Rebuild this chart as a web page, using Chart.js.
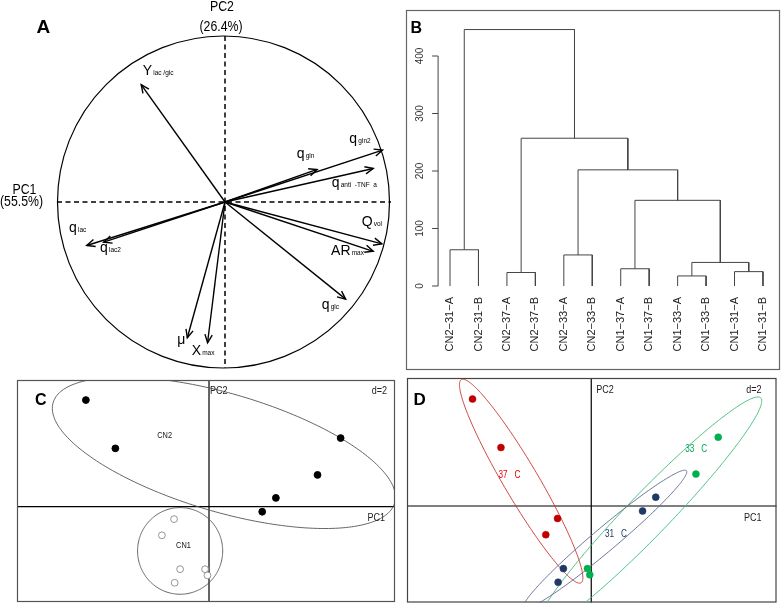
<!DOCTYPE html>
<html><head><meta charset="utf-8">
<script src="https://cdn.jsdelivr.net/npm/chart.js@4.4.1/dist/chart.umd.min.js"></script>
<style>
html,body{margin:0;padding:0;background:#fff;}
#wrap{position:relative;width:781px;height:607px;overflow:hidden;background:#fff;}
#wrap canvas{position:absolute;left:0;top:0;}
</style></head><body>
<div id="wrap">
<canvas id="cA" width="781" height="607"></canvas>
<canvas id="cB" width="781" height="607"></canvas>
<canvas id="cC" width="781" height="607"></canvas>
<canvas id="cD" width="781" height="607"></canvas>
</div>
<script>
// ================= DATA =================
// Panel A : correlation circle (loadings on PC1 / PC2)
const varMain = ['Y','q','q','q','Q','AR','q','q','q','\u03bc','X'];
const varSub  = ['lac /glc','gln2','gln','anti  -TNF  a','vol','max','glc','lac','lac2','','max'];
const loadPC1 = [-0.505, 0.949, 0.555, 0.893, 0.945, 0.893, 0.727, -0.833, -0.731, -0.227, -0.105];
const loadPC2 = [ 0.707, 0.313, 0.196, 0.202, -0.252, -0.297, -0.585, -0.262, -0.242, -0.818, -0.848];
const pcNames = ['PC1','PC2'];
const pcPercent = ['(55.5%)','(26.4%)'];

// Panel B : hierarchical clustering (R-style merge table)
const leafLabels = ['CN2\u221231\u2212A','CN2\u221231\u2212B','CN2\u221237\u2212A','CN2\u221237\u2212B',
  'CN2\u221233\u2212A','CN2\u221233\u2212B','CN1\u221237\u2212A','CN1\u221237\u2212B',
  'CN1\u221233\u2212A','CN1\u221233\u2212B','CN1\u221231\u2212A','CN1\u221231\u2212B'];
const mergeLeft   = [-9, -3, -11, -7, 1, -5, -1, 4, 6, 2, 7];
const mergeRight  = [-10, -4, -12, -8, 3, -6, -2, 5, 8, 9, 10];
const mergeHeight = [17.5, 23.5, 25, 30, 41, 54, 63, 149, 202, 257, 446];
const heightTicks = [0, 100, 200, 300, 400];

// Panels C and D : sample scores on PC1 / PC2
const sampleNutrient = ['CN2','CN2','CN1','CN1','CN2','CN2','CN1','CN1','CN2','CN2','CN1','CN1'];
const sampleTemp     = ['37','37','37','37','33','33','33','33','31','31','31','31'];
const scorePC1 = [-4.05, -3.08, -1.15, -1.55, 4.33, 3.57, -0.13, -0.05, 2.20, 1.75, -0.95, -1.13];
const scorePC2 = [ 3.62,  1.98, -0.42, -0.97, 2.33, 1.08, -2.12, -2.33, 0.30, -0.17, -2.12, -2.58];
const gridD = 'd=2';

// group ellipses (centre, semi-axes, orientation in degrees)
const nutGroups = ['CN2','CN1'];
const nutEllCX = [0.49, -0.95], nutEllCY = [1.83, -1.50];
const nutEllA  = [5.87, 1.47],  nutEllB  = [2.00, 1.40], nutEllAng = [-17, 90];
const tempGroups = ['37','33','31'];
const tempEllCX = [-2.39, 1.96, 0.47], tempEllCY = [0.84, -0.27, -1.13];
const tempEllA  = [4.00, 5.48, 3.62],  tempEllB  = [0.59, 0.72, 0.40];
const tempEllAng = [-59.3, 45.8, 39.9];

// ================= LAYOUT / STYLE =================
const W = 781, H = 607;
const SANS = '"Liberation Sans",Arial,sans-serif';
const NARROW_SCALE = 0.82;
// label offsets (px) from arrow tips, baseline-anchored
const varLabelOffset = [[1.5,-9.6],[-33.2,-7.5],[-20.4,-11.5],[-41.5,19],[-20.2,-17.5],[-42.2,3.7],
  [-24,9.9],[-17.7,-13.5],[-3.7,9.8],[-10,6.2],[-15.9,12.2]];
const nutLabelPos = [[-1.46,2.40],[-0.84,-1.30]];
const tempLabelPos = [[-2.79,1.03],[3.58,1.93],[0.84,-0.97]];
const tempPointColor = ['#c00000','#00b050','#1f3864'];
const tempEllColor = ['#c8322c','#3dbb7a','#5a6890'];
const tempTextColor = ['#e00000','#00a84f','#1f3864'];

function baseOptions(pad, xr, yr) {
  return {
    responsive: false, animation: false, events: [],
    layout: { padding: pad },
    plugins: { legend: { display: false }, tooltip: { enabled: false } },
    scales: {
      x: { type: 'linear', display: false, min: xr[0], max: xr[1] },
      y: { type: 'linear', display: false, min: yr[0], max: yr[1] }
    }
  };
}
function drawEllipse(ctx, xs, ys, cx, cy, a, b, ang, color, lw) {
  const t = ang * Math.PI / 180, c = Math.cos(t), s = Math.sin(t);
  ctx.beginPath();
  for (let k = 0; k <= 240; k++) {
    const f = k / 240 * 2 * Math.PI;
    const ex = a * Math.cos(f), ey = b * Math.sin(f);
    const px = xs.getPixelForValue(cx + ex * c - ey * s);
    const py = ys.getPixelForValue(cy + ex * s + ey * c);
    if (k === 0) ctx.moveTo(px, py); else ctx.lineTo(px, py);
  }
  ctx.closePath();
  ctx.strokeStyle = color; ctx.lineWidth = lw; ctx.stroke();
}
function txt(ctx, s, x, y, font, color, align, base) {
  ctx.font = font; ctx.fillStyle = color;
  ctx.textAlign = align || 'left'; ctx.textBaseline = base || 'alphabetic';
  ctx.fillText(s, x, y);
}
// condensed text (narrow face emulated by horizontal scaling)
function ntxt(ctx, s, x, y, size, color, align, base) {
  ctx.save();
  ctx.translate(x, y); ctx.scale(NARROW_SCALE, 1);
  txt(ctx, s, 0, 0, size + 'px ' + SANS, color, align, base);
  ctx.restore();
}

// ================= PANEL A =================
const arrowSets = loadPC1.map((v, i) => ({
  data: [{ x: 0, y: 0 }, { x: v, y: loadPC2[i] }],
  showLine: true, borderColor: '#000', borderWidth: 1.4, pointRadius: 0, fill: false
}));
const pluginA = {
  id: 'panelA',
  beforeDatasetsDraw(chart) {
    const ctx = chart.ctx, xs = chart.scales.x, ys = chart.scales.y;
    const ox = xs.getPixelForValue(0), oy = ys.getPixelForValue(0);
    const r = xs.getPixelForValue(1) - ox;
    ctx.save();
    ctx.beginPath(); ctx.arc(ox - 1.5, oy, r, 0, 2 * Math.PI);
    ctx.strokeStyle = '#000'; ctx.lineWidth = 1.2; ctx.stroke();
    ctx.setLineDash([5, 3.5]); ctx.lineWidth = 1.5;
    ctx.beginPath();
    ctx.moveTo(ox, ys.getPixelForValue(1)); ctx.lineTo(ox, ys.getPixelForValue(-1));
    ctx.moveTo(xs.getPixelForValue(-1) - 2, oy); ctx.lineTo(xs.getPixelForValue(1), oy);
    ctx.stroke();
    ctx.restore();
  },
  afterDatasetsDraw(chart) {
    const ctx = chart.ctx, xs = chart.scales.x, ys = chart.scales.y;
    const ox = xs.getPixelForValue(0), oy = ys.getPixelForValue(0);
    ctx.save();
    ctx.strokeStyle = '#000'; ctx.lineWidth = 1.4;
    loadPC1.forEach((v, i) => {
      const tx = xs.getPixelForValue(v), ty = ys.getPixelForValue(loadPC2[i]);
      const ang = Math.atan2(ty - oy, tx - ox), L = 9, da = 0.42;
      ctx.beginPath();
      ctx.moveTo(tx - L * Math.cos(ang - da), ty - L * Math.sin(ang - da));
      ctx.lineTo(tx, ty);
      ctx.lineTo(tx - L * Math.cos(ang + da), ty - L * Math.sin(ang + da));
      ctx.stroke();
      const lx = tx + varLabelOffset[i][0], ly = ty + varLabelOffset[i][1];
      ctx.font = '14px ' + SANS;
      const w = ctx.measureText(varMain[i]).width;
      txt(ctx, varMain[i], lx, ly, '14px ' + SANS, '#000');
      if (varSub[i]) txt(ctx, varSub[i], lx + w + 1.2, ly, '6.5px ' + SANS, '#000');
    });
    // axis titles
    ntxt(ctx, pcNames[1], ox - 3, 10.5, 15, '#000', 'center');
    ntxt(ctx, pcPercent[1], ox - 4, 30.5, 15, '#000', 'center');
    ntxt(ctx, pcNames[0], 24.5, 194, 15, '#000', 'center');
    ntxt(ctx, pcPercent[0], 21.5, 206, 15, '#000', 'center');
    txt(ctx, 'A', 36.5, 33.3, 'bold 19px ' + SANS, '#000');
    ctx.restore();
  }
};
new Chart(document.getElementById('cA'), {
  type: 'scatter',
  data: { datasets: arrowSets },
  options: baseOptions({ left: 59, top: 36, right: W - 391, bottom: H - 368 }, [-1, 1], [-1, 1]),
  plugins: [pluginA]
});

// ================= PANEL B =================
const nodeX = [], nodeH = [];
function posOf(id) { return id < 0 ? { x: -id, h: 0 } : { x: nodeX[id - 1], h: nodeH[id - 1] }; }
const dendroSets = [];
mergeLeft.forEach((l, k) => {
  const a = posOf(l), b = posOf(mergeRight[k]), h = mergeHeight[k];
  nodeX.push((a.x + b.x) / 2); nodeH.push(h);
  dendroSets.push({
    data: [{ x: a.x, y: a.h }, { x: a.x, y: h }, { x: b.x, y: h }, { x: b.x, y: b.h }],
    showLine: true, borderColor: '#444', borderWidth: 1, pointRadius: 0, fill: false
  });
});
const pluginB = {
  id: 'panelB',
  afterDatasetsDraw(chart) {
    const ctx = chart.ctx, xs = chart.scales.x, ys = chart.scales.y;
    ctx.save();
    ctx.strokeStyle = '#666'; ctx.lineWidth = 1.2;
    ctx.strokeRect(406.5, 10.5, 373, 359);
    const ax = xs.left + 2.3;
    ctx.strokeStyle = '#444'; ctx.lineWidth = 1;
    ctx.beginPath();
    ctx.moveTo(ax, ys.getPixelForValue(heightTicks[0]));
    ctx.lineTo(ax, ys.getPixelForValue(heightTicks[heightTicks.length - 1]));
    heightTicks.forEach(t => { const py = ys.getPixelForValue(t); ctx.moveTo(ax, py); ctx.lineTo(ax - 6, py); });
    ctx.stroke();
    heightTicks.forEach(t => {
      const py = ys.getPixelForValue(t);
      ctx.save(); ctx.translate(ax - 18, py); ctx.rotate(-Math.PI / 2);
      txt(ctx, String(t), 0, 0, '10px ' + SANS, '#333', 'center', 'middle');
      ctx.restore();
    });
    leafLabels.forEach((s, i) => {
      const px = xs.getPixelForValue(i + 1);
      ctx.save(); ctx.translate(px, ys.getPixelForValue(0) + 11); ctx.rotate(-Math.PI / 2);
      txt(ctx, s, 0, 0, '11px ' + SANS, '#222', 'right', 'middle');
      ctx.restore();
    });
    txt(ctx, 'B', 410.5, 33.3, 'bold 16px ' + SANS, '#000');
    ctx.restore();
  }
};
new Chart(document.getElementById('cB'), {
  type: 'scatter',
  data: { datasets: dendroSets },
  options: baseOptions({ left: 435.8, top: 21.5, right: W - 777.2, bottom: H - 286 }, [0.5, 12.5], [0, 460]),
  plugins: [pluginB]
});

// ================= PANEL C =================
function idxWhere(arr, v) { return arr.map((g, i) => g === v ? i : -1).filter(i => i >= 0); }
const cSets = nutGroups.map(g => {
  const ids = idxWhere(sampleNutrient, g);
  const filled = g === 'CN2';
  return {
    data: ids.map(i => ({ x: scorePC1[i], y: scorePC2[i] })),
    pointRadius: 3.4, pointBackgroundColor: filled ? '#000' : '#fff',
    pointBorderColor: filled ? '#000' : '#8a8a8a', pointBorderWidth: filled ? 1 : 0.9, showLine: false
  };
});
function axesAndFrame(chart, frameColor) {
  const ctx = chart.ctx, xs = chart.scales.x, ys = chart.scales.y, ca = chart.chartArea;
  ctx.strokeStyle = '#000'; ctx.lineWidth = 1.2;
  ctx.beginPath();
  ctx.moveTo(xs.getPixelForValue(0), ca.top); ctx.lineTo(xs.getPixelForValue(0), ca.bottom);
  ctx.moveTo(ca.left, ys.getPixelForValue(0)); ctx.lineTo(ca.right, ys.getPixelForValue(0));
  ctx.stroke();
  ctx.strokeStyle = frameColor; ctx.lineWidth = 1.2;
  ctx.strokeRect(ca.left + 0.5, ca.top + 0.5, ca.right - ca.left - 1, ca.bottom - ca.top - 1);
}
const pluginC = {
  id: 'panelC',
  beforeDatasetsDraw(chart) {
    const ctx = chart.ctx, xs = chart.scales.x, ys = chart.scales.y, ca = chart.chartArea;
    ctx.save();
    axesAndFrame(chart, '#555');
    ctx.beginPath(); ctx.rect(ca.left, ca.top, ca.right - ca.left, ca.bottom - ca.top); ctx.clip();
    nutGroups.forEach((g, k) => drawEllipse(ctx, xs, ys, nutEllCX[k], nutEllCY[k], nutEllA[k], nutEllB[k], nutEllAng[k], '#555', 0.9));
    ctx.restore();
    ctx.save();
    const ox = xs.getPixelForValue(0), oy = ys.getPixelForValue(0);
    ntxt(ctx, pcNames[1], ox + 1, ca.top + 14, 11, '#222');
    ntxt(ctx, gridD, ca.right - 8, ca.top + 14, 11, '#222', 'right');
    ntxt(ctx, pcNames[0], ca.right - 10, oy + 14, 11, '#222', 'right');
    nutGroups.forEach((g, k) => ntxt(ctx, g, xs.getPixelForValue(nutLabelPos[k][0]), ys.getPixelForValue(nutLabelPos[k][1]),
      9, '#111', 'center', 'middle'));
    txt(ctx, 'C', 35, 405, 'bold 16px ' + SANS, '#000');
    ctx.restore();
  }
};
new Chart(document.getElementById('cC'), {
  type: 'scatter',
  data: { datasets: cSets },
  options: baseOptions({ left: 17, top: 380, right: W - 395, bottom: H - 606 }, [-6.316, 6.118], [-3.233, 4.3]),
  plugins: [pluginC]
});

// ================= PANEL D =================
const dSets = tempGroups.map((g, k) => {
  const ids = idxWhere(sampleTemp, g);
  return {
    data: ids.map(i => ({ x: scorePC1[i], y: scorePC2[i] })),
    pointRadius: 3.5, pointBackgroundColor: tempPointColor[k], pointBorderColor: tempPointColor[k],
    pointBorderWidth: 0.5, showLine: false
  };
});
const pluginD = {
  id: 'panelD',
  beforeDatasetsDraw(chart) {
    const ctx = chart.ctx, xs = chart.scales.x, ys = chart.scales.y, ca = chart.chartArea;
    ctx.save();
    axesAndFrame(chart, '#444');
    ctx.beginPath(); ctx.rect(ca.left, ca.top, ca.right - ca.left, ca.bottom - ca.top); ctx.clip();
    tempGroups.forEach((g, k) => drawEllipse(ctx, xs, ys, tempEllCX[k], tempEllCY[k], tempEllA[k], tempEllB[k], tempEllAng[k], tempEllColor[k], 0.9));
    ctx.restore();
    ctx.save();
    const ox = xs.getPixelForValue(0), oy = ys.getPixelForValue(0);
    ntxt(ctx, pcNames[1], ox + 5, ca.top + 15, 11, '#222');
    ntxt(ctx, gridD, ca.right - 15, ca.top + 15, 11, '#222', 'right');
    ntxt(ctx, pcNames[0], ca.right - 15, oy + 15, 11, '#222', 'right');
    tempGroups.forEach((g, k) => ntxt(ctx, g + '   C', xs.getPixelForValue(tempLabelPos[k][0]), ys.getPixelForValue(tempLabelPos[k][1]),
      10, tempTextColor[k], 'center', 'middle'));
    txt(ctx, 'D', 413.5, 405, 'bold 17px ' + SANS, '#000');
    ctx.restore();
  }
};
new Chart(document.getElementById('cD'), {
  type: 'scatter',
  data: { datasets: dSets },
  options: baseOptions({ left: 407, top: 378, right: W - 780, bottom: H - 606 }, [-6.284, 6.318], [-3.267, 4.333]),
  plugins: [pluginD]
});
</script>
</body></html>
